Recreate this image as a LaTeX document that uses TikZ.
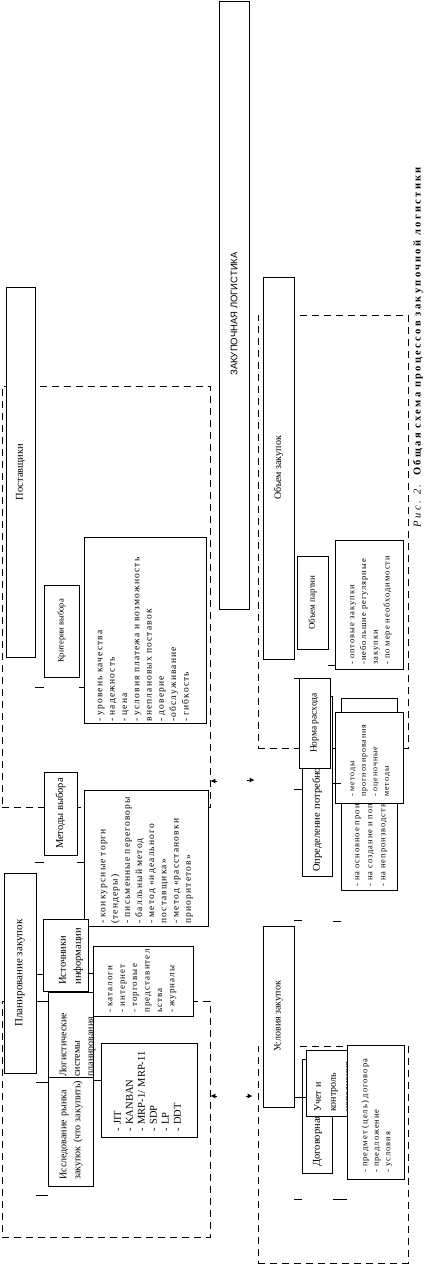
\documentclass[tikz,border=0pt]{standalone}
\usepackage{fontspec}
\setmainfont{Liberation Serif}
\newfontfamily\headfam{Liberation Sans}
\newfontfamily\listfam[LetterSpace=12]{Liberation Serif}
\newfontfamily\capfam[LetterSpace=22]{Liberation Serif}
\usetikzlibrary{arrows.meta}

\begin{document}
\begin{tikzpicture}[x=1pt, y=-1pt,
        box/.style={rectangle, draw=black, fill=white, line width=0.8pt, rotate=90, inner sep=0pt, align=center, font=\fontsize{10.5}{12}\selectfont},
        textbox/.style={box, anchor=north west, align=left, inner ysep=0pt},
        listbox/.style={textbox, font=\listfam\fontsize{8.5}{12.3}\selectfont},
        group/.style={rectangle, draw=black, line width=0.8pt, dash pattern=on 7pt off 5pt, inner sep=0pt},
        link/.style={line width=0.8pt},
        tip/.style={-{Latex[length=5pt,width=5pt]}, line width=0.8pt}
    ]
    \useasboundingbox (0,0) rectangle (446,1278);

    % dashed groups
    \node (grpsup) [group, minimum width=208pt, minimum height=421pt] at (106,596.5) {};
    \node (grpplan) [group, minimum width=208pt, minimum height=236pt] at (106,1119) {};
    \node (grpvol) [group, minimum width=150pt, minimum height=433pt] at (333,531.5) {};
    \node (grpcond) [group, minimum width=150pt, minimum height=217pt] at (333,1154.5) {};

    % left half
    \node (main) [box, minimum width=608pt, minimum height=30pt, font=\headfam\fontsize{9.5}{11}\selectfont] at (234,305) {ЗАКУПОЧНАЯ ЛОГИСТИКА\hspace*{18pt}};
    \node (sup) [box, minimum width=370pt, minimum height=29pt] at (20.5,472) {Поставщики};
    \node (crit) [box, minimum width=92pt, minimum height=35pt, font=\fontsize{8.5}{10}\selectfont] at (61.5,631) {Критерии выбора};
    \node (critlist) [listbox, text width=182pt, inner xsep=2pt, text height=18pt, text depth=104pt, font=\listfam\fontsize{9.5}{12.3}\selectfont] at (84,724)
        {- уровень качества\\- надежность\\- цена\\\mbox{- условия платежа и возможность}\\внеплановых поставок\\- доверие\\-обслуживание\\- гибкость};
    \node (meth) [box, minimum width=83pt, minimum height=33pt] at (60.5,813.5) {Методы выбора};
    \node (methlist) [listbox, text width=130pt, inner xsep=3pt, text height=21pt, text depth=103pt, font=\listfam\fontsize{9.5}{12.2}\selectfont] at (84,927)
        {- конкурсные торги\\(тендеры)\\\mbox{- письменные переговоры}\\- балльный метод\\\mbox{- метод «идеального}\\поставщика»\\\mbox{- метод «расстановки}\\приоритетов»};
    \node (plan) [box, minimum width=200pt, minimum height=32pt, font=\fontsize{11}{13}\selectfont] at (20,973) {Планирование закупок};
    \node (market) [textbox, text width=95pt, inner xsep=7pt, text height=18pt, text depth=27pt, font=\fontsize{10}{14}\selectfont] at (48,1187)
        {Исследование рынка\\\mbox{закупок (что закупить)}};
    \node (logsys) [textbox, text width=83pt, inner xsep=1pt, text height=18pt, text depth=27pt, font=\fontsize{10}{13.5}\selectfont] at (48,1078)
        {Логистические\\системы\\планирования};
    \node (src) [textbox, text width=58pt, inner xsep=7pt, text height=22.5pt, text depth=22.5pt, font=\fontsize{10.5}{15}\selectfont] at (43,992)
        {Источники\\информации};
    \node (srclist) [listbox, text width=62pt, inner xsep=4pt, text height=19pt, text depth=81pt, font=\listfam\fontsize{9}{12.4}\selectfont] at (93,1017)
        {- каталоги\\- интернет\\- торговые\\\mbox{представител}\\ьства\\- журналы};
    \node (jitlist) [textbox, text width=82pt, inner xsep=6pt, text height=19.5pt, text depth=76.5pt, font=\fontsize{10.5}{12}\selectfont] at (101,1138)
        {- JIT\\- KANBAN\\- MRP-1/ MRP-11\\- SDP\\- LP\\- DDT};

    % right half
    \node (vol) [box, minimum width=382pt, minimum height=31pt, font=\fontsize{10}{12}\selectfont] at (278.5,468) {Объем закупок};
    \node (lot) [box, minimum width=93pt, minimum height=31pt, font=\fontsize{9}{11}\selectfont] at (312.5,602.5) {Объем партии};
    \node (lotlist) [listbox, text width=119pt, inner xsep=5pt, text height=19pt, text depth=49pt, font=\listfam\fontsize{8.5}{11.7}\selectfont] at (335,670)
        {\mbox{- оптовые закупки}\\\mbox{-небольшие регулярные}\\закупки\\\mbox{- по мере необходимости}};
    \node (need) [textbox, text width=170pt, inner xsep=5pt, text height=17.5pt, text depth=12.5pt] at (302,877) {Определение потребности};
    \node (norm) [box, minimum width=90pt, minimum height=31pt, font=\fontsize{9.5}{11}\selectfont] at (314.5,723) {Норма расхода};
    \node (needlist) [listbox, text width=184pt, inner xsep=4pt, text height=18pt, text depth=38pt, font=\listfam\fontsize{8.5}{13}\selectfont] at (341,891)
        {\mbox{- на основное производство}\\\mbox{- на создание и пополнение}\\\mbox{- на непроизводственные нужды}};
    \node (fcst) [listbox, text width=77pt, inner xsep=7pt, text height=19pt, text depth=49pt, font=\listfam\fontsize{8}{11.5}\selectfont] at (335,804)
        {- методы\\прогнозирования\\- оценочные\\методы};
    \node (cond) [box, minimum width=181pt, minimum height=31pt, font=\fontsize{10}{12}\selectfont] at (278.5,1016.5) {Условия закупок};
    \node (contract) [textbox, text width=100pt, inner xsep=7pt, text height=17.5pt, text depth=12.5pt] at (302,1174) {Договорная работа};
    \node (ctrl) [textbox, text width=56pt, inner xsep=5pt, text height=14.5pt, text depth=26.5pt, font=\fontsize{10}{15}\selectfont] at (306,1117)
        {Учет и\\контроль\\исполнения};
    \node (dogl) [listbox, text width=120pt, inner xsep=7pt, text height=20pt, text depth=37pt, font=\listfam\fontsize{8.5}{11.5}\selectfont] at (347,1180)
        {\mbox{- предмет (цель) договора}\\- предложение\\- условия};

    \node (caption) [rotate=90, font=\capfam\fontsize{10.5}{12}\selectfont] at (418,346)
        {\textit{Рис. 2.} \textbf{Общая схема процессов закупочной логистики}};

    % links
    \draw [link] (sup.south |- 0,687) -- (crit.north |- 0,687);
    \draw [link] (crit.south |- 0,687) -- (critlist.north |- 0,687);
    \draw [link] (sup.south |- 0,862) -- (meth.north |- 0,862);
    \draw [link] (meth.south |- 0,862) -- (methlist.north |- 0,862);
    \draw [link] (plan.south |- 0,974) -- (src.north |- 0,974);
    \draw [link] (src.south |- 0,973) -- (srclist.north |- 0,973);
    \draw [link] (plan.south |- 0,1001) -- (logsys.north |- 0,1001);
    \draw [link] (plan.south |- 0,1082) -- (market.north |- 0,1082);
    \draw [link] (market.south |- 0,1080) -- (jitlist.north |- 0,1080);
    \draw [link] (plan.south |- 0,1195) -- (market.north |- 0,1195);
    \draw [link] (lot.south |- 0,665) -- (lotlist.north |- 0,665);
    \draw [link] (vol.south |- 0,678) -- (norm.north |- 0,678);
    \draw [link] (vol.south |- 0,789) -- (need.north |- 0,789);
    \draw [link] (need.south |- 0,783) -- (needlist.north |- 0,783);
    \draw [link] (cond.south |- 0,920) -- (need.north |- 0,920);
    \draw [link] (need.south |- 0,921) -- (needlist.north |- 0,921);
    \draw [link] (cond.south |- 0,1097) -- (ctrl.north |- 0,1097);
    \draw [link] (cond.south |- 0,1199) -- (contract.north |- 0,1199);
    \draw [link] (contract.south |- 0,1199) -- (dogl.north |- 0,1199);

    % arrow tips
    \coordinate (tipa) at (217,781);
    \coordinate (tipb) at (247,780);
    \coordinate (tipc) at (217,1096);
    \coordinate (tipd) at (246,1096);
    \draw [tip] (tipa) -- (grpsup.east |- tipa);
    \draw [tip] (tipb) -- ([xshift=-3pt]grpvol.west |- tipb);
    \draw [tip] (tipc) -- (grpplan.east |- tipc);
    \draw [tip] (tipd) -- ([xshift=-5pt]grpcond.west |- tipd);
\end{tikzpicture}
\end{document}
